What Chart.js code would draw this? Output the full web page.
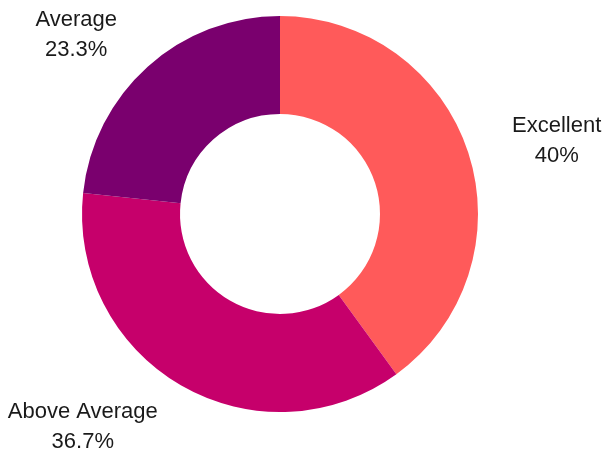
<!DOCTYPE html>
<html>
<head>
<meta charset="utf-8">
<script src="https://cdn.jsdelivr.net/npm/chart.js@4/dist/chart.umd.min.js"></script>
<style>
  html, body { margin: 0; padding: 0; background: #fff; }
  #wrap { width: 604px; height: 453px; }
</style>
</head>
<body>
<div id="wrap"><canvas id="chart"></canvas></div>
<script>
const labels = ["Excellent", "Above Average", "Average"];
const values = [40, 36.7, 23.3];
const colors = ["#ff5a5a", "#c6006b", "#7a006e"];

/* labels outside the ring, two lines each */
const outsideLabels = {
  id: "outsideLabels",
  afterDatasetsDraw(chart) {
    const ctx = chart.ctx;
    const meta = chart.getDatasetMeta(0);
    ctx.save();
    ctx.font = "22px 'Liberation Sans', Arial, sans-serif";
    ctx.fillStyle = "#1a1a1a";
    ctx.textBaseline = "middle";
    ctx.textAlign = "center";
    meta.data.forEach((arc, i) => {
      const p = arc.getProps(["x", "y", "startAngle", "endAngle", "outerRadius"], true);
      const mid = (p.startAngle + p.endAngle) / 2;
      const r = p.outerRadius + 46;
      const ax = p.x + Math.cos(mid) * r;
      const ay = p.y + Math.sin(mid) * r;
      const lines = [labels[i], values[i] + "%"];
      const w = Math.max(...lines.map(l => ctx.measureText(l).width));
      const cx = Math.cos(mid) >= 0 ? ax + w / 2 : ax - w / 2;
      ctx.fillText(lines[0], cx, ay - 13);
      ctx.fillText(lines[1], cx, ay + 17);
    });
    ctx.restore();
  }
};

new Chart(document.getElementById("chart"), {
  type: "doughnut",
  data: {
    labels,
    datasets: [{
      data: values,
      backgroundColor: colors,
      borderWidth: 0
    }]
  },
  options: {
    responsive: true,
    maintainAspectRatio: false,
    animation: false,
    cutout: "50.5%",
    layout: { padding: { top: 16, bottom: 41, left: 82, right: 126 } },
    plugins: {
      legend: { display: false },
      tooltip: { enabled: false }
    }
  },
  plugins: [outsideLabels]
});
</script>
</body>
</html>
